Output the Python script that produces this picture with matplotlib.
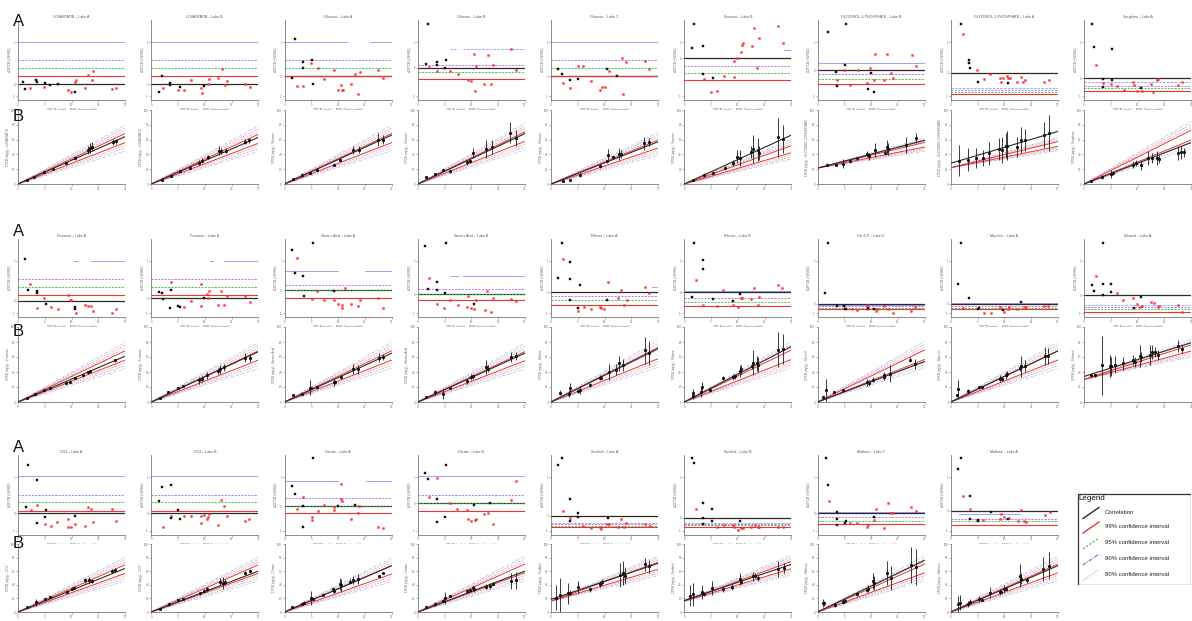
import matplotlib
matplotlib.use("Agg")
import matplotlib.pyplot as plt
from matplotlib.patches import Rectangle

plt.rcParams['font.family'] = ['Liberation Sans', 'DejaVu Sans']

W, H = 1192, 621

# ---------------- titles ----------------
TITLES = [
    "LOVASTATIN – Lake A", "LOVASTATIN – Lake B", "Glucose – Lake A", "Glucose – Lake B",
    "Glucose – Lake C", "Sucrose – Lake B", "GLYCEROL-3-PHOSPHATE – Lake B",
    "GLYCEROL-3-PHOSPHATE – Lake A", "Sorghum – Lake A",
    "Fructose – Lake A", "Fructose – Lake B", "Stearic Acid – Lake A", "Stearic Acid – Lake B",
    "Ribose – Lake A", "Ribose – Lake B", "Glc-6-P – Lake C", "Myo-Ins – Lake A", "Ethanol – Lake A",
    "CO2 – Lake A", "CO2 – Lake B", "Citrate – Lake A", "Citrate – Lake B",
    "Sorbitol – Lake A", "Sorbitol – Lake B", "Maltose – Lake C", "Maltose – Lake A",
]

# ---------------- A panels: horizontal levels (black, red 99, green 95, purple 90, blue 80) ----------------
LEVELS = [
    [2.0, 3.0, 4.0, 5.0, 7.3], [2.0, 3.0, 4.0, 5.0, 7.3], [2.95, 3.05, 4.0, 5.0, 7.3],
    [4.04, 2.6, 3.5, 4.4, 6.4], [2.95, 3.05, 4.0, 5.0, 7.3], [5.2, 2.5, 3.4, 4.25, 6.3],
    [3.75, 1.96, 2.6, 3.25, 4.6], [3.4, 0.7, 1.05, 1.2, 1.46], [2.7, 1.17, 1.5, 1.8, 2.2],
    [2.07, 2.87, 3.8, 4.9, 7.2], [2.4, 2.87, 3.9, 4.9, 7.2], [3.4, 2.4, 3.4, 4.05, 5.9],
    [2.9, 2.15, 2.9, 3.55, 5.3], [3.2, 1.6, 2.15, 2.65, 3.9], [3.2, 1.43, 1.95, 2.4, 3.3],
    [1.73, 1.0, 1.2, 1.4, 1.6], [1.73, 0.97, 1.2, 1.43, 1.75], [2.8, 0.68, 1.0, 1.23, 1.6],
    [2.7, 3.04, 4.1, 5.0, 7.4], [2.7, 3.04, 4.1, 5.0, 7.4], [3.6, 2.8, 3.6, 4.6, 6.7],
    [3.96, 3.0, 3.96, 5.0, 7.4], [2.4, 0.96, 1.17, 1.33, 1.54], [2.17, 1.04, 1.2, 1.33, 1.46],
    [2.7, 1.33, 1.75, 2.3, 2.83], [3.04, 1.25, 1.8, 1.96, 2.6],
]
BLUE_SEGS = [
    [(0, 100)], [(0, 100)], [(0, 58), (80, 100)], [(30, 37), (42, 100)], [(0, 100)], [(93, 100)],
    [(0, 100)], [(0, 100)], [(0, 100)],
    [(52, 56), (68, 100)], [(55, 58), (68, 100)], [(0, 50), (75, 100)], [(30, 38), (42, 100)],
    [(94, 100)], [(0, 100)], [(0, 100)], [(0, 100)], [(0, 100)],
    [(0, 100)], [(0, 100)], [(0, 50), (76, 100)], [(0, 100)], [(0, 100)], [(0, 100)],
    [(0, 100)], [(8, 65)],
]
BLUE_DASHED = [0, 0, 0, 1, 0, 0, 0, 1, 1,
               0, 0, 0, 0, 0, 0, 0, 0, 1,
               0, 0, 0, 0, 1, 1, 0, 0]

# ---------------- A panels: scatter points ----------------
SCAT_X = [
    [5, 6.5, 11, 17, 17.5, 24.6, 25, 30, 37.7, 47, 49.5, 53, 54, 53.3, 62.6, 65.7, 68.8, 70.4, 87.5, 91.6],
    [9.7, 7.5, 11, 17.5, 17.5, 26.9, 24.7, 31, 37, 46.5, 47, 49, 53, 54, 62.7, 65.8, 70.5, 69, 92, 87.6],
    [9.8, 6.7, 11.4, 17.6, 17.6, 17.6, 25.4, 24.8, 31, 26.3, 37.2, 46.6, 49.7, 52.8, 54, 54.3, 62, 65.9, 68.4, 70.6, 87.7, 92.4],
    [9.9, 7.4, 10.8, 17.7, 17.9, 17.7, 26.4, 25.5, 30, 37.3, 46.7, 49.5, 52.6, 53.2, 54.4, 62.2, 65.7, 68.1, 70, 87.1, 91.8],
    [7, 10, 11, 18, 18, 25.5, 25.5, 30, 37.4, 45.8, 47.4, 50.5, 52.6, 54.5, 61.4, 66, 67, 70, 88, 92],
    [9.4, 6.9, 17.8, 17.8, 18.8, 25, 30.3, 26.6, 37.5, 46.8, 46.8, 49.6, 53, 53.7, 54.6, 65.5, 70.2, 68.3, 63, 88, 92],
    [9.5, 26.6, 17.3, 18.5, 17.9, 25, 25.7, 30.4, 37.5, 46, 46.9, 49, 49.7, 53.1, 53.1, 54, 62.4, 65.2, 68.4, 70.3, 88, 92],
    [9.6, 11.1, 17.4, 17.4, 18, 24.8, 25.8, 31, 36.7, 46, 46.7, 49.1, 52.3, 53.2, 53.8, 55.4, 61.6, 65.7, 67.8, 69.7, 87.6, 91.8],
    [7.2, 9.3, 11.2, 18, 18, 18, 25.9, 26.5, 25.2, 31.1, 37.4, 46.1, 46.7, 49.8, 53, 53.9, 62.3, 64.8, 67.9, 69.5, 87.5, 91.9],
    [6.5, 9.7, 11.2, 17.4, 17.4, 17.4, 24.6, 26.2, 30.5, 37.7, 47, 48.6, 49.5, 53.3, 53.3, 54.2, 62.6, 65.1, 67.9, 70.4, 87.5, 91.6],
    [7.5, 9.7, 11.3, 18.1, 18.1, 17.5, 25.3, 26.9, 31, 37.2, 46.5, 46.5, 49.6, 52.4, 53.3, 54.2, 62.6, 65.1, 67.9, 70.4, 87.5, 92.2],
    [7.3, 11.4, 9.8, 17.6, 18.2, 26.3, 25.4, 30.7, 37.2, 46.6, 46.6, 49.7, 53.4, 54, 56.5, 62.1, 68.4, 70.6, 87.7, 92.3],
    [6.8, 26.4, 9.9, 10.8, 17.7, 17.7, 17.7, 24.9, 25.5, 30.1, 37.3, 46.3, 47.3, 49.8, 52.6, 52.6, 54.4, 62.9, 65, 68.1, 70, 87.2, 91.8],
    [6.9, 10, 11.5, 17.8, 17.8, 17.8, 25.5, 25.5, 27.1, 31.2, 37.4, 45.8, 46.7, 49.5, 53, 52.7, 62.3, 65.4, 68.2, 70.7, 87.9, 91.9],
    [9.4, 11, 7, 17.8, 17.8, 17.8, 26.6, 30.3, 36.5, 45.9, 45.9, 49.9, 52.1, 53, 54.3, 62.4, 65.5, 68.6, 69.9, 87.3, 91.6],
    [10.1, 7, 17.9, 25.1, 25.7, 26.6, 32, 37.2, 46, 46.6, 47.5, 53.1, 54.7, 55.3, 62.4, 65.6, 70.3, 87.4, 91.1],
    [9.6, 7.1, 17.3, 11.2, 25.8, 26.7, 31.1, 37.3, 46, 48.5, 49.8, 53.2, 54.7, 62.2, 65.7, 68.8, 70.3, 87.5, 91.2],
    [17.4, 11.2, 7.2, 9.7, 17.4, 17.4, 25.2, 25.2, 30.5, 36.8, 46.1, 53, 52.3, 46.7, 49.8, 53.9, 62.6, 65.4, 68.9, 70.4, 87.5, 91.9],
    [9.7, 18.1, 7.2, 11.8, 18.1, 18.1, 25.2, 26.2, 25.2, 30.5, 36.8, 46.4, 47, 49.5, 53.3, 53.3, 62.6, 65.7, 67.9, 70.4, 87.5, 91.6],
    [7.5, 9.7, 11.3, 18.1, 18.1, 18.1, 25.3, 26.9, 31, 37.2, 46.5, 46.5, 49.3, 52.4, 53.3, 54.2, 62.6, 65.1, 67.9, 70.4, 87.5, 91.6],
    [7.3, 9.8, 11.4, 17.6, 17.6, 17.6, 25.4, 25.4, 26.3, 31, 37.2, 46.6, 46.3, 50.3, 52.8, 52.8, 54, 62.1, 65.9, 68.4, 70, 87.7, 92.3],
    [6.8, 9.9, 10.8, 17.7, 17.7, 17.7, 25.5, 26.4, 30.1, 36.4, 46.3, 47.3, 49.8, 52.6, 53.5, 54.1, 62.2, 65.3, 67.5, 70, 87.2, 91.8],
    [6.9, 10, 10.9, 17.8, 17.8, 17.8, 25.5, 25.5, 30.2, 37.4, 45.8, 46.7, 52, 53, 54.5, 62.3, 65.4, 68.2, 70.1, 87.9, 92.5],
    [7.6, 9.4, 11, 17.8, 17.8, 17.8, 25.6, 25.6, 30.3, 37.5, 45.9, 46.8, 49.9, 52.1, 53, 54.6, 62.4, 66.1, 68.6, 70.2, 87.9, 92.6],
    [7.6, 10.1, 11, 17.9, 17.9, 17.9, 25.7, 26.6, 30.4, 36.6, 46.5, 47.5, 52.8, 53.1, 54.4, 62.4, 65.6, 67.8, 70.3, 87.4, 92.1],
    [7.1, 9.6, 11.1, 18, 18, 18, 25.8, 25.8, 30.4, 37.6, 46, 47, 50, 53.2, 54.7, 62.5, 65.7, 68.5, 70.3, 88.1, 92.8],
]
SCAT_Y = [
    [2.2, 1.4, 1.5, 2.5, 2.2, 1.6, 2.1, 1.9, 2.0, 1.3, 1.0, 2.3, 2.5, 0.96, 1.5, 3.1, 2.5, 3.6, 1.4, 1.5],
    [3.0, 1.0, 1.54, 2.1, 1.9, 1.6, 1.25, 1.3, 2.5, 1.46, 0.83, 1.75, 2.0, 2.67, 2.8, 3.83, 2.4, 1.9, 1.67, 2.0],
    [7.6, 2.8, 1.7, 1.7, 4.8, 4.0, 5.0, 4.6, 4.04, 2.0, 2.6, 3.7, 1.3, 1.9, 1.2, 1.3, 2.0, 3.25, 0.75, 3.46, 3.75, 2.8],
    [9.5, 4.5, 4.17, 4.8, 4.4, 3.67, 5.0, 3.96, 3.6, 3.25, 2.5, 2.4, 5.75, 1.17, 4.3, 2.0, 5.6, 2.0, 4.4, 6.4, 3.75],
    [3.9, 3.3, 2.1, 2.5, 1.5, 2.6, 4.3, 4.3, 2.4, 1.2, 1.6, 1.6, 3.9, 3.6, 3.0, 5.3, 0.8, 4.8, 4.9, 3.9],
    [9.5, 6.5, 6.75, 3.3, 2.6, 1.04, 1.17, 2.8, 3.04, 2.9, 4.9, 5.2, 6.0, 6.9, 7.1, 9.0, 7.8, 4.0, 6.7, 9.25, 7.1],
    [8.46, 9.5, 3.5, 2.5, 1.75, 3.75, 4.4, 1.9, 3.8, 2.1, 1.4, 4.0, 3.4, 2.5, 1.04, 5.8, 2.5, 5.75, 3.4, 2.7, 5.6, 4.25],
    [9.5, 8.2, 5.0, 4.6, 3.96, 3.75, 2.3, 2.6, 3.25, 2.7, 2.3, 2.8, 3.0, 2.7, 2.1, 2.8, 2.2, 2.9, 2.2, 2.5, 2.2, 2.5],
    [9.5, 6.67, 4.4, 2.6, 2.1, 1.6, 2.5, 6.4, 2.0, 1.75, 1.25, 2.3, 1.9, 1.17, 1.46, 1.17, 2.0, 1.04, 2.5, 2.6, 1.9, 2.2],
    [7.4, 3.4, 4.2, 3.3, 3.1, 1.1, 2.4, 1.7, 1.3, 0.97, 2.8, 2.15, 2.2, 1.3, 1.0, 0.55, 1.5, 1.4, 1.4, 0.76, 0.55, 1.0],
    [3.2, 3.1, 2.3, 4.5, 3.4, 1.2, 1.4, 1.3, 1.3, 2.0, 4.2, 1.4, 2.4, 2.9, 2.4, 3.3, 1.5, 3.3, 1.5, 2.65, 2.65, 1.9],
    [8.6, 7.6, 5.65, 5.3, 2.7, 9.5, 2.3, 3.3, 2.15, 3.3, 2.15, 1.7, 1.5, 1.2, 3.7, 1.7, 1.4, 2.15, 2.4, 1.2],
    [9.1, 9.5, 3.6, 5.0, 4.55, 3.4, 1.65, 1.1, 3.1, 2.15, 1.5, 1.3, 2.65, 1.2, 1.7, 1.0, 2.15, 0.9, 3.3, 0.6, 2.45, 2.3, 2.0],
    [5.0, 9.5, 7.5, 7.1, 4.9, 2.15, 1.1, 0.76, 4.05, 1.3, 0.97, 1.3, 1.1, 1.0, 4.55, 2.15, 2.4, 3.4, 1.5, 2.15, 3.9, 3.1],
    [9.5, 4.7, 2.6, 7.3, 6.1, 1.5, 2.3, 1.43, 3.5, 2.06, 1.5, 1.3, 3.0, 2.45, 2.4, 2.3, 3.75, 1.5, 2.6, 4.1, 3.75],
    [9.45, 3.1, 1.43, 1.43, 1.0, 0.97, 1.0, 0.9, 0.97, 1.6, 1.2, 1.0, 0.8, 1.0, 1.43, 1.0, 0.55, 0.8, 1.23],
    [9.5, 4.2, 2.45, 1.1, 0.97, 1.2, 0.55, 0.55, 1.23, 0.9, 0.68, 1.0, 1.23, 0.97, 1.95, 1.3, 1.3, 1.43, 1.43],
    [9.5, 5.2, 4.05, 3.3, 4.2, 2.87, 4.2, 3.2, 3.1, 2.2, 2.5, 2.6, 1.23, 1.1, 1.73, 1.43, 1.86, 1.8, 1.23, 1.4, 1.6, 0.68],
    [8.75, 6.9, 3.5, 3.1, 3.8, 1.46, 2.2, 3.1, 1.33, 1.17, 1.67, 2.0, 0.96, 1.04, 2.4, 1.375, 1.17, 3.5, 3.25, 1.58, 3.2, 1.8],
    [4.25, 6.0, 1.04, 6.2, 2.4, 2.1, 3.1, 2.0, 2.4, 2.4, 2.4, 1.46, 2.5, 1.96, 2.3, 2.6, 1.25, 4.4, 3.6, 2.4, 1.8, 1.96],
    [6.1, 5.1, 3.3, 3.6, 4.7, 0.96, 2.3, 1.9, 9.6, 3.04, 3.75, 3.46, 3.1, 3.6, 6.4, 4.5, 4.25, 2.0, 3.8, 2.7, 3.6, 1.04, 0.83],
    [7.7, 7.0, 4.8, 7.1, 4.46, 1.58, 2.3, 8.75, 4.04, 3.2, 3.1, 2.0, 1.8, 3.75, 1.9, 1.96, 2.6, 2.7, 3.96, 1.33, 4.4, 6.75],
    [8.75, 9.6, 3.04, 4.5, 2.17, 1.75, 2.8, 2.3, 1.125, 0.83, 0.96, 0.75, 1.375, 2.08, 1.33, 0.96, 2.0, 1.04, 1.46, 1.33, 1.125],
    [9.6, 8.96, 3.25, 4.04, 2.17, 1.375, 3.2, 1.8, 0.96, 1.25, 1.25, 1.04, 0.625, 1.8, 0.83, 0.9, 0.96, 1.25, 0.96, 0.96, 0.96, 0.96],
    [9.6, 6.3, 4.25, 2.83, 1.96, 1.25, 1.54, 1.8, 1.54, 1.46, 0.96, 1.25, 2.3, 1.9, 3.2, 0.9, 3.96, 2.8, 2.7, 3.5, 3.0],
    [8.3, 9.6, 4.9, 4.9, 3.25, 2.0, 1.9, 1.75, 1.9, 2.9, 2.0, 2.6, 2.3, 1.96, 2.17, 1.8, 3.1, 1.8, 1.67, 2.5, 2.83],
]
SCAT_C = [
    'kkrkkrkkkrrrrkrrrrrr', 'kkrkkkrrrrrkrrrrrrrr', 'kkrrkkkrrkrrrrrrrrrrrr',
    'kkrkkrkkrrrrrrrrrrrrr', 'kkrkrkrrrrrrkrkrrrrr', 'kkkkrrrkrrrrrrrrrrrrr',
    'kkkrkrkrrrkrkrkrrrrrrr', 'krkkkrkrrrrrrrkrrrrrrr', 'kkrkrkkkrrrrrrkrrrrrrr',
    'kkrkkrrkrrrrrkkrrrrrrr', 'kkkrkkkkrrrrkrrrrrrrrr', 'krkkkkrrrkrrrrrrrrrr',
    'kkkrkkrrkrrrrrkrrrrrrrr', 'kkrkkkkrkrrrrrrkrrrrrr', 'krkkkrkrrkrrkrrrrrrrr',
    'kkkkkkrrrrkkrrrrrrr', 'kkkrkkrrrkrrrrkrrrr', 'krkkkkkkrrrkrkrrrrrrrr',
    'kkkrrkkkrrrrrrkrrrrrrr', 'kkrkrkkkrrrrrrrrrrrrrr', 'kkrkrkrrkrrrrkrrrrkrrrr',
    'kkrrkkkkrrrrrkrrrrkrrr', 'kkrkrkkkrrrrrkrrrrrrr', 'kkrkkkkkrrrrrkrrrrrrrr',
    'kkrkkkkkrrrrkrrrrrrrr', 'kkrkrkkkrkrrrkrrrrrrr',
]

# ---------------- B panels: regression line and confidence band (start, end) ----------------
LINE_BLACK = [
    (0, 6.4), (0, 6.3), (0, 6.6), (0, 6.8), (0, 5.7), (0, 6.6), (2.15, 5.9), (2.8, 7.1), (0, 5.6),
    (0, 6.1), (0, 6.7), (0, 6.5), (0, 6.5), (0, 7.2), (0, 7.4), (0, 5.4), (0, 6.8), (3.4, 7.9),
    (0, 6.4), (0, 6.0), (0, 6.8), (0, 6.0), (1.85, 7.15), (1.7, 7.0), (0, 7.6), (0, 6.8),
]
LINE_BAND = [
    (0, 6.2), (0, 6.1), (0, 6.2), (0, 6.4), (0, 5.4), (0, 4.7), (2.15, 5.3), (2.2, 5.4), (0, 6.6),
    (0, 6.2), (0, 6.2), (0, 6.2), (0, 6.1), (0, 6.4), (0, 6.3), (0, 6.3), (0, 6.2), (3.0, 7.2),
    (0, 6.3), (0, 6.3), (0, 6.2), (0, 6.4), (1.6, 6.8), (1.6, 6.9), (0, 6.4), (0, 6.4),
]
BAND_MULT = [0.10, 0.16, 0.22, 0.28]

# ---------------- B panels: error bars ----------------
BAR_X = [
    [8, 15, 24, 33, 45, 53, 65, 67, 69, 89, 92],
    [10, 18, 27, 36, 45, 47, 53, 63, 65, 70, 88, 91],
    [8, 16, 24, 30, 46, 52, 64, 70, 87, 92],
    [8, 16, 24, 30, 46, 49, 52, 64, 69, 86, 92],
    [11, 18, 27, 46, 52, 53, 58, 64, 65, 87, 92],
    [8, 18, 27, 38, 46, 49, 52, 62, 64, 69, 70, 88, 92],
    [9, 17, 24, 30, 37, 46, 48, 54, 63, 65, 66, 83, 92],
    [8, 16, 24, 30, 36, 45, 48, 52, 53, 62, 66, 69, 87, 92],
    [7, 17, 25, 27, 46, 49, 53, 60, 64, 68, 70, 88, 91, 93],
    [8, 16, 24, 30, 45, 49, 53, 61, 65, 67, 91],
    [8, 16, 25, 30, 45, 47, 52, 62, 64, 68, 88, 92],
    [8, 16, 24, 25, 30, 46, 47, 53, 64, 69, 88, 92],
    [8, 16, 24, 30, 46, 50, 52, 64, 66, 87, 92],
    [8, 17, 18, 25, 27, 36, 46, 47, 54, 61, 64, 67, 88, 92],
    [8, 8.5, 16, 17, 24, 36, 46, 47, 52, 53, 63, 64, 68, 69, 88, 92],
    [5, 8, 15, 24, 46, 48, 52, 62, 62.5, 68, 86, 91],
    [5.5, 7, 16, 26, 29, 46, 48, 52, 53, 65, 65.5, 69, 88, 91],
    [7, 10, 16.5, 24, 25, 29, 36, 46, 48, 52, 53, 62, 64, 66, 69, 88, 92],
    [8, 17, 25, 30, 46, 50, 52, 63, 66, 69, 88, 91],
    [8, 17, 25, 30, 46, 49, 52, 64, 67, 69, 88, 92],
    [7, 16, 18, 25, 27, 36, 45, 46, 52, 53, 61, 64, 69, 88, 92],
    [8, 16, 24, 25.5, 30, 46, 49, 52, 53, 64, 67.5, 70, 87, 92],
    [5, 8, 16, 18, 25.5, 36, 46, 48, 64.5, 67, 69, 88, 92],
    [5, 8.5, 17, 18, 26, 36.5, 45, 52, 53, 64.5, 66, 69, 88, 93],
    [5, 6.5, 16, 24, 26, 37, 46, 47.5, 52, 53, 65, 69, 87, 92],
    [7, 8.6, 16, 18, 26, 29, 37, 46, 47, 50, 52, 65, 66, 71, 86.5, 92],
]
BAR_LO = [
    [0.4, 0.85, 1.45, 1.95, 2.7, 3.3, 4.0, 4.2, 4.4, 5.3, 5.4],
    [0.5, 0.9, 1.6, 2.0, 2.6, 2.8, 3.4, 3.9, 4.0, 4.2, 5.4, 5.6],
    [0.55, 1.0, 1.4, 1.8, 2.4, 3.05, 4.1, 4.2, 5.1, 5.4],
    [0.8, 1.15, 1.7, 1.5, 2.6, 2.9, 3.5, 3.5, 4.1, 5.5, 5.2],
    [0.3, 0.5, 1.0, 2.15, 2.8, 3.05, 3.4, 3.3, 3.5, 4.6, 5.07],
    [0.45, 1.0, 1.4, 1.9, 2.4, 2.8, 2.4, 3.5, 2.8, 3.05, 3.3, 3.7, 4.2],
    [2.45, 2.4, 2.15, 2.9, 3.27, 3.6, 3.27, 3.7, 3.9, 4.1, 3.95, 4.2, 5.5],
    [1.03, 1.7, 2.15, 2.4, 2.6, 3.27, 2.8, 3.5, 3.27, 3.7, 4.2, 4.4, 4.85, 4.4],
    [0.22, 0.67, 0.8, 1.26, 2.15, 2.47, 1.9, 2.6, 2.8, 2.6, 2.8, 3.27, 3.36, 3.7],
    [0.5, 1.0, 1.45, 1.8, 2.45, 2.5, 3.1, 3.3, 3.8, 3.9, 5.3],
    [0.5, 1.2, 1.75, 2.0, 2.45, 2.7, 3.1, 3.8, 3.8, 4.2, 5.3, 5.3],
    [0.8, 0.9, 0.9, 1.7, 1.9, 2.2, 2.44, 3.1, 3.8, 3.8, 5.3, 5.55],
    [0.55, 1.0, 0.45, 1.8, 2.45, 2.9, 3.1, 3.8, 4.0, 5.35, 5.55],
    [0.9, 0.67, 1.33, 1.2, 1.1, 2.0, 2.9, 3.1, 2.9, 3.55, 4.2, 4.2, 5.1, 4.9],
    [0.67, 0.44, 0.67, 1.33, 1.33, 3.0, 2.9, 3.1, 3.33, 3.8, 4.4, 3.55, 4.2, 4.0, 4.67, 5.1],
    [0.6, 0.0, 1.25, 1.45, 2.2, 2.2, 2.67, 2.9, 3.1, 2.67, 5.33, 4.44],
    [0.8, 0.44, 1.1, 1.78, 1.78, 2.67, 2.8, 3.1, 3.33, 4.2, 3.33, 4.0, 4.9, 5.1],
    [3.4, 3.4, 1.0, 3.4, 3.5, 3.9, 4.3, 4.9, 4.7, 4.7, 5.4, 4.9, 5.8, 6.0, 5.6, 6.7, 6.5],
    [0.65, 0.95, 1.8, 2.1, 2.75, 3.2, 3.33, 4.3, 4.1, 4.3, 5.7, 5.9],
    [0.4, 0.95, 1.6, 1.8, 2.5, 2.75, 3.0, 3.9, 3.4, 3.9, 5.45, 5.7],
    [0.6, 1.1, 1.17, 1.1, 1.75, 2.3, 3.0, 2.75, 3.2, 3.0, 4.1, 4.1, 4.1, 5.2, 5.7],
    [0.6, 0.95, 1.4, 1.17, 2.2, 2.75, 3.0, 3.2, 3.0, 3.4, 3.4, 3.9, 3.4, 3.4],
    [0.27, 0.05, 1.17, 2.5, 2.75, 3.0, 3.65, 3.9, 3.65, 3.9, 4.1, 6.1, 5.7],
    [0.95, 0.95, 1.85, 2.3, 2.5, 3.0, 3.2, 3.9, 4.1, 4.55, 5.0, 4.55, 5.2, 5.7],
    [0.72, 0.95, 0.72, 1.17, 1.4, 2.3, 3.0, 3.0, 3.4, 3.2, 3.9, 3.2, 4.3, 3.9],
    [0.05, 0.27, 0.72, 1.17, 1.4, 1.6, 2.07, 2.5, 2.75, 3.0, 3.2, 3.65, 4.1, 4.3, 4.55, 4.8],
]
BAR_HI = [
    [0.6, 1.1, 1.75, 2.2, 2.95, 3.8, 5.1, 5.5, 5.7, 6.05, 6.1],
    [0.7, 1.15, 1.9, 2.4, 3.2, 3.5, 3.9, 5.1, 4.8, 4.8, 6.05, 6.2],
    [0.8, 1.5, 1.7, 2.0, 2.8, 3.5, 5.1, 5.1, 6.9, 6.6],
    [1.0, 1.5, 2.15, 1.9, 3.3, 3.4, 4.85, 6.0, 6.0, 8.4, 7.3],
    [0.45, 0.7, 1.5, 2.6, 3.3, 4.7, 3.8, 4.85, 4.6, 6.4, 6.2],
    [0.7, 1.5, 1.6, 2.4, 3.3, 4.6, 4.6, 5.07, 6.6, 6.2, 5.07, 8.9, 8.0],
    [2.8, 2.8, 3.36, 3.2, 3.7, 4.4, 4.2, 5.5, 4.6, 6.0, 5.5, 6.4, 6.95],
    [5.3, 4.85, 4.85, 4.6, 5.7, 6.2, 6.4, 6.9, 7.1, 6.4, 7.76, 7.5, 8.4, 9.3],
    [0.58, 1.26, 1.9, 1.7, 3.05, 3.27, 3.27, 4.4, 4.2, 4.4, 3.95, 5.07, 5.3, 4.85],
    [0.65, 1.15, 1.65, 1.95, 2.75, 2.9, 3.4, 3.8, 4.2, 4.3, 5.8],
    [0.7, 1.45, 2.0, 2.3, 3.3, 3.5, 4.0, 4.6, 4.9, 5.1, 6.5, 6.4],
    [1.0, 1.35, 2.9, 2.0, 2.2, 3.1, 2.9, 3.55, 5.1, 5.0, 6.5, 6.45],
    [0.75, 1.55, 1.8, 2.0, 3.1, 3.7, 3.8, 5.55, 4.9, 6.7, 6.7],
    [1.55, 1.55, 2.53, 1.78, 2.1, 2.53, 3.55, 3.4, 5.1, 5.1, 6.1, 5.8, 8.7, 8.1],
    [1.78, 1.1, 2.0, 2.67, 2.0, 3.47, 3.7, 3.8, 4.9, 4.9, 5.33, 6.9, 6.2, 6.0, 9.3, 9.1],
    [0.75, 3.1, 1.4, 1.65, 3.1, 2.9, 3.33, 3.8, 4.0, 4.9, 6.0, 5.8],
    [1.0, 2.9, 1.78, 2.2, 2.2, 3.55, 3.4, 4.0, 4.2, 4.9, 6.2, 5.55, 7.3, 7.2],
    [3.8, 3.8, 8.8, 6.3, 6.0, 6.1, 6.0, 6.3, 6.0, 7.6, 6.7, 7.6, 7.6, 7.4, 6.9, 8.3, 7.6],
    [0.85, 1.85, 2.05, 2.3, 3.2, 3.65, 3.8, 5.0, 5.2, 4.9, 6.35, 6.5],
    [0.6, 1.4, 1.8, 2.0, 3.0, 3.4, 3.65, 5.0, 5.2, 4.8, 6.1, 6.35],
    [0.8, 1.4, 1.6, 3.06, 1.95, 2.75, 3.65, 3.5, 5.0, 4.8, 4.8, 5.3, 5.6, 5.5, 5.9],
    [0.8, 1.4, 1.85, 3.0, 2.4, 3.4, 3.4, 3.9, 3.8, 4.1, 4.3, 4.4, 5.7, 5.9],
    [3.9, 5.0, 4.3, 3.2, 4.55, 3.65, 4.55, 4.8, 7.25, 7.5, 6.6, 7.9, 7.7],
    [3.9, 4.3, 3.9, 3.0, 4.55, 3.65, 4.1, 5.7, 4.8, 5.9, 5.7, 5.45, 7.5, 7.25],
    [1.85, 1.6, 1.26, 1.85, 1.85, 2.9, 3.4, 3.9, 5.7, 5.3, 7.5, 6.7, 9.6, 9.3],
    [2.3, 2.5, 1.6, 1.85, 2.3, 2.07, 3.65, 3.4, 3.2, 3.9, 3.65, 7.0, 5.7, 5.2, 8.15, 8.8],
]

LEGEND_LABELS = ["Correlation", "99% confidence interval", "95% confidence interval",
                 "90% confidence interval", "80% confidence interval"]

# ---------------- layout ----------------
COL_LEFT = [18 + 133.25 * k for k in range(9)]
COL_W = 107
A_ROWS = [(20, 100), (239, 317), (455, 535)]
B_ROWS = [(110, 184), (327, 402), (544, 612)]
LETTER_Y = [(21, 117), (232, 331), (447, 544)]
NCOLS = [9, 9, 8]

C_BLACK = '#2a2a2a'
C_RED = '#ee3333'
C_GREEN = '#33bb33'
C_PURPLE = '#b060e0'
C_BLUE = '#8f8fff'
BAND_COLORS = ['#e23a3a', '#f29a9a', '#c8a6e0', '#aeb8e4']
BAND_LS = ['-', (0, (3, 1.5)), (0, (3, 1.5)), (0, (4, 1.5, 1, 1.5))]
BAND_LW = [0.7, 0.5, 0.5, 0.5]

fig = plt.figure(figsize=(W / 100, H / 100), dpi=100)


def rect(left, top, bottom, width):
    return [left / W, 1 - bottom / H, width / W, (bottom - top) / H]


def style(ax):
    for s in ['top', 'right']:
        ax.spines[s].set_visible(False)
    for s in ['left', 'bottom']:
        ax.spines[s].set_color('#7a7a7a')
        ax.spines[s].set_linewidth(0.6)
    ax.tick_params(length=1.2, width=0.4, labelsize=2.2, colors='#777777', pad=0.6)


def compound(title):
    return title.split(' – ')[0]


p = 0
for row in range(3):
    for col in range(NCOLS[row]):
        left = COL_LEFT[col]
        # ---------- A panel ----------
        at, ab = A_ROWS[row]
        ax = fig.add_axes(rect(left, at, ab, COL_W))
        style(ax)
        blk, red, grn, pur, blu = LEVELS[p]
        for (s0, s1) in BLUE_SEGS[p]:
            ax.plot([s0, s1], [blu, blu], color=C_BLUE, lw=0.6,
                    ls=(0, (3, 1.5)) if BLUE_DASHED[p] else '-', zorder=2)
        ax.plot([0, 100], [pur, pur], color=C_PURPLE, lw=0.6, ls=(0, (2.5, 1.5)), zorder=2)
        ax.plot([0, 100], [blk, blk], color=C_BLACK, lw=0.9, zorder=2)
        ax.plot([0, 100], [grn, grn], color=C_GREEN, lw=0.6, ls=(0, (2.5, 1.5)), zorder=3)
        ax.plot([0, 100], [red, red], color=C_RED, lw=0.8, zorder=3)
        xs, ys, cs = SCAT_X[p], SCAT_Y[p], SCAT_C[p]
        for x, y, c in zip(xs, ys, cs):
            if c == 'k':
                ax.plot(x, y, 's', ms=1.5, color='#111111', mec='#111111', mew=0.3, zorder=4)
            else:
                ax.plot(x, y, 's', ms=1.3, color='#ff3b3b', mec='#ee2222', mew=0.3, zorder=4)
        ax.set_xlim(0, 100)
        ax.set_ylim(0, 10)
        ax.set_xticks([0, 25, 50, 75, 100])
        ax.set_xticklabels(['0', '5', '10', '15', '20'])
        ax.set_yticks([0.5, blk, 7.2])
        ax.set_yticklabels(['-1', '0', '1'])
        ax.set_title(TITLES[p], fontsize=2.6, color='#555555', pad=1.5)
        ax.set_xlabel('ΣPCB (ng/g) – PSP (lipid weight)', fontsize=2.4, color='#666666', labelpad=0.8)
        ax.set_ylabel('ΔΣPCB (%RSD)', fontsize=2.4, color='#666666', labelpad=0.8)

        # ---------- B panel ----------
        bt, bb = B_ROWS[row]
        bx = fig.add_axes(rect(left, bt, bb, COL_W))
        style(bx)
        c0, c1 = LINE_BAND[p]
        d = c1 - c0
        for m, colr, ls, lw in zip(BAND_MULT[::-1], BAND_COLORS[::-1], BAND_LS[::-1], BAND_LW[::-1]):
            for sgn in (1, -1):
                bx.plot([0, 100], [c0, c0 + d * (1 + sgn * m)], color=colr, ls=ls, lw=lw, zorder=2)
        b0, b1 = LINE_BLACK[p]
        bx.plot([0, 100], [b0, b1], color=C_BLACK, lw=0.8, zorder=3)
        lo, hi = BAR_LO[p], BAR_HI[p]
        bx.vlines(BAR_X[p], lo, hi, color='#1a1a1a', lw=0.6, zorder=4)
        mids = [(a + b) / 2 for a, b in zip(lo, hi)]
        bx.plot(BAR_X[p], mids, 's', ms=1.1, color='#111111', zorder=5, ls='none')
        bx.set_xlim(0, 100)
        bx.set_ylim(0, 10)
        bx.set_xticks([0, 25, 50, 75, 100])
        bx.set_xticklabels(['0', '5', '10', '15', '20'])
        bx.set_yticks([0, 2, 4, 6, 8, 10])
        bx.set_yticklabels(['0', '20', '40', '60', '80', '100'])
        bx.set_ylabel('ΣPCB (ng/g) – ' + compound(TITLES[p]), fontsize=2.2, color='#666666', labelpad=0.8)
        p += 1

    ya, yb = LETTER_Y[row]
    fig.text(13 / W, 1 - ya / H, 'A', fontsize=12, va='center', ha='left', color='#111111')
    fig.text(13 / W, 1 - yb / H, 'B', fontsize=12, va='center', ha='left', color='#111111')

# ---------------- legend box ----------------
lax = fig.add_axes([1077 / W, 1 - 585 / H, 114 / W, 92 / H])
lax.set_xlim(0, 114)
lax.set_ylim(92, 0)
lax.axis('off')
lax.add_patch(Rectangle((0.5, 0.5), 113, 91, fill=False, ec='#333333', lw=0.9))
lax.text(1.2, 1.5, 'Legend', fontsize=5.8, va='top', ha='left', color='#111111')
LEG_Y = [19.5, 34, 50, 66, 81.5]
LEG_COL = [C_BLACK, C_RED, C_GREEN, '#7a4fe0', '#a9b0e8']
LEG_LS = ['-', '-', (0, (2, 1.5)), (0, (3, 1.2, 1, 1.2)), (0, (1, 1.2))]
LEG_LW = [1.0, 1.0, 0.8, 0.8, 0.8]
for yy, lab, colr, ls, lw in zip(LEG_Y, LEGEND_LABELS, LEG_COL, LEG_LS, LEG_LW):
    lax.plot([6, 22], [yy + 6, yy - 5], color=colr, ls=ls, lw=lw)
    lax.text(28, yy, lab, fontsize=4.3, va='center', ha='left', color='#222222')

fig.savefig('out.png', dpi=100)
